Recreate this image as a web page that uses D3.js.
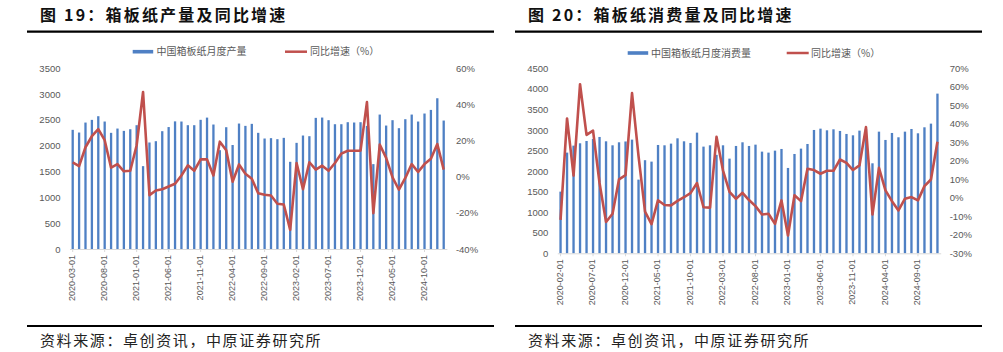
<!DOCTYPE html>
<html>
<head>
<meta charset="utf-8">
<script src="https://cdn.jsdelivr.net/npm/d3@7"></script>
<style>
  body { margin: 0; background: #fff; }
</style>
</head>
<body>
<div id="chart-area"></div>
<script>
// 图19 箱板纸产量
const prodDates = [
  "2020-03-01","2020-04-01","2020-05-01","2020-06-01","2020-07-01","2020-08-01","2020-09-01","2020-10-01","2020-11-01","2020-12-01",
  "2021-01-01","2021-02-01","2021-03-01","2021-04-01","2021-05-01","2021-06-01","2021-07-01","2021-08-01","2021-09-01","2021-10-01","2021-11-01","2021-12-01",
  "2022-01-01","2022-02-01","2022-03-01","2022-04-01","2022-05-01","2022-06-01","2022-07-01","2022-08-01","2022-09-01","2022-10-01","2022-11-01","2022-12-01",
  "2023-01-01","2023-02-01","2023-03-01","2023-04-01","2023-05-01","2023-06-01","2023-07-01","2023-08-01","2023-09-01","2023-10-01","2023-11-01","2023-12-01",
  "2024-01-01","2024-02-01","2024-03-01","2024-04-01","2024-05-01","2024-06-01","2024-07-01","2024-08-01","2024-09-01","2024-10-01","2024-11-01","2024-12-01",
  "2025-01-01"
]
const prodOutput = [
  2308, 2256, 2449, 2501, 2572, 2469, 2250, 2333, 2288, 2320,
  2398, 1605, 2063, 2088, 2282, 2362, 2472, 2469, 2398, 2398,
  2502, 2545, 2411, 1914, 2359, 2014, 2430, 2385, 2424, 2250,
  2140, 2147, 2127, 2153, 1689, 2056, 2198, 2185, 2540, 2546,
  2495, 2417, 2417, 2456, 2450, 2456, 2385, 1644, 2604, 2391,
  2495, 2340, 2514, 2604, 2469, 2624, 2694, 2920, 2488
]
const prodYoY = [
  8.0, 5.9, 16.3, 22.4, 26.3, 20.2, 5.0, 7.0, 3.0, 3.3,
  17.4, 46.9, -10.2, -7.6, -6.9, -5.4, -3.9, 0.7, 6.3, 3.3,
  9.6, 9.6, 0.7, 19.4, 14.6, -2.8, 6.8, 1.6, -1.1, -9.1,
  -10.0, -10.4, -15.0, -15.4, -29.4, 7.6, -6.9, 8.0, 3.9, 6.1,
  3.3, 7.6, 12.8, 14.4, 14.4, 14.4, 41.3, -20.2, 17.8, 10.4,
  -0.4, -7.2, -0.7, 7.0, 2.6, 7.0, 10.0, 18.1, 3.9
]
const prodTicks = ["2020-03-01","2020-08-01","2021-01-01","2021-06-01","2021-11-01","2022-04-01",
  "2022-09-01","2023-02-01","2023-07-01","2023-12-01","2024-05-01","2024-10-01"]
const prodLeftTicks = [0, 500, 1000, 1500, 2000, 2500, 3000, 3500]
const prodRightTicks = [-40, -20, 0, 20, 40, 60]

// 图20 箱板纸消费量
const consDates = [
  "2020-02-01","2020-03-01","2020-04-01","2020-05-01","2020-06-01","2020-07-01","2020-08-01","2020-09-01","2020-10-01","2020-11-01","2020-12-01",
  "2021-01-01","2021-02-01","2021-03-01","2021-04-01","2021-05-01","2021-06-01","2021-07-01","2021-08-01","2021-09-01","2021-10-01","2021-11-01","2021-12-01",
  "2022-01-01","2022-02-01","2022-03-01","2022-04-01","2022-05-01","2022-06-01","2022-07-01","2022-08-01","2022-09-01","2022-10-01","2022-11-01","2022-12-01",
  "2023-01-01","2023-02-01","2023-03-01","2023-04-01","2023-05-01","2023-06-01","2023-07-01","2023-08-01","2023-09-01","2023-10-01","2023-11-01","2023-12-01",
  "2024-01-01","2024-02-01","2024-03-01","2024-04-01","2024-05-01","2024-06-01","2024-07-01","2024-08-01","2024-09-01","2024-10-01","2024-11-01","2024-12-01"
]
const consVolume = [
  1500, 2449, 2619, 2676, 2732, 2781, 2830, 2724, 2627, 2700,
  2720, 2765, 1792, 2265, 2230, 2635, 2627, 2668, 2797, 2724,
  2684, 2935, 2595, 2627, 2395, 2627, 2303, 2611, 2700, 2611,
  2643, 2473, 2449, 2497, 2538, 2076, 2416, 2546, 2659, 3000,
  3032, 2992, 3016, 2976, 2903, 2870, 2984, 3024, 2189, 2959,
  2757, 2927, 2822, 2959, 3024, 2919, 3065, 3154, 3884
]
const consYoY = [
  -11.9, 42.9, 12.0, 61.4, 34.0, 36.3, 8.0, -13.1, -8.6, 10.0,
  12.3, 56.6, 22.5, -7.5, -14.2, -1.3, -3.9, -4.1, -1.7, 0.3,
  2.5, 8.0, -5.1, -5.3, 33.0, 14.7, 3.2, -0.6, 2.7, -1.2,
  -4.5, -9.0, -8.6, -14.1, -1.4, -20.4, 1.4, -1.8, 15.7, 15.0,
  13.0, 14.6, 14.6, 20.7, 18.9, 15.0, 17.5, 38.2, -9.0, 16.2,
  4.0, -1.8, -6.8, -0.5, 0.4, -1.4, 6.3, 9.9, 30.3
]
const consTicks = ["2020-02-01","2020-07-01","2020-12-01","2021-05-01","2021-10-01","2022-03-01",
  "2022-08-01","2023-01-01","2023-06-01","2023-11-01","2024-04-01","2024-09-01"]
const consLeftTicks = [0, 500, 1000, 1500, 2000, 2500, 3000, 3500, 4000, 4500]
const consRightTicks = [-30, -20, -10, 0, 10, 20, 30, 40, 50, 60, 70]

const BAR_COLOR = "#4f80c4"
const LINE_COLOR = "#c0504d"
const TEXT_COLOR = "#595959"
const AXIS_COLOR = "#d9d9d9"
const CJK = "'Noto Sans CJK SC', 'Noto Sans', sans-serif"
const NUM = "'Liberation Sans', Arial, sans-serif"

const svg = d3.select("#chart-area").append("svg")
      .attr("width", 1003)
      .attr("height", 352)

drawPanel({
      left: 0, title: "图 19：箱板纸产量及同比增速",
      barName: "中国箱板纸月度产量", lineName: "同比增速（%）",
      dates: prodDates, bars: prodOutput, yoy: prodYoY, ticks: prodTicks,
      leftTicks: prodLeftTicks, rightTicks: prodRightTicks,
      xRange: [69.5, 446.9], yBase: 249, yTop: 68.3,
      legend: { rect: 132.7, text: 156.5, line: 285, lineText: 310, y: 51.7 }
})

drawPanel({
      left: 488, title: "图 20：箱板纸消费量及同比增速",
      barName: "中国箱板纸月度消费量", lineName: "同比增速（%）",
      dates: consDates, bars: consVolume, yoy: consYoY, ticks: consTicks,
      leftTicks: consLeftTicks, rightTicks: consRightTicks,
      xRange: [557.3, 940.7], yBase: 253.3, yTop: 68.3,
      legend: { rect: 627.7, text: 651, line: 786.7, lineText: 811, y: 53 }
})

function drawPanel(p) {
      const g = svg.append("g")

      // title + rules
      g.append("text")
            .attr("x", p.left + 40)
            .attr("y", 21)
            .attr("font-family", CJK)
            .attr("font-weight", "bold")
            .attr("font-size", "16px")
            .attr("letter-spacing", "2.2px")
            .attr("fill", "#111")
            .text(p.title)

      g.append("line")
            .attr("x1", p.left + 27).attr("x2", p.left + 494)
            .attr("y1", 31.7).attr("y2", 31.7)
            .attr("stroke", "#000").attr("stroke-width", 2.2)

      g.append("line")
            .attr("x1", p.left + 27).attr("x2", p.left + 494)
            .attr("y1", 326).attr("y2", 326)
            .attr("stroke", "#000").attr("stroke-width", 2.2)

      g.append("text")
            .attr("x", p.left + 40)
            .attr("y", 346)
            .attr("font-family", CJK)
            .attr("font-size", "15px")
            .attr("letter-spacing", "1.6px")
            .attr("fill", "#222")
            .text("资料来源：卓创资讯，中原证券研究所")

      // legend
      const L = p.legend
      g.append("rect")
            .attr("x", L.rect).attr("y", L.y - 1.8)
            .attr("width", 20.5).attr("height", 3.6)
            .attr("fill", BAR_COLOR)
      g.append("text")
            .attr("x", L.text).attr("y", L.y + 3.5)
            .attr("font-family", CJK).attr("font-size", "10px")
            .attr("fill", TEXT_COLOR)
            .text(p.barName)
      g.append("line")
            .attr("x1", L.line).attr("x2", L.line + 22)
            .attr("y1", L.y).attr("y2", L.y)
            .attr("stroke", LINE_COLOR).attr("stroke-width", 2.5)
      g.append("text")
            .attr("x", L.lineText).attr("y", L.y + 3.5)
            .attr("font-family", CJK).attr("font-size", "10px")
            .attr("fill", TEXT_COLOR)
            .text(p.lineName)

      // scales
      const x = d3.scaleBand()
            .domain(p.dates)
            .range(p.xRange)
            .paddingInner(0.64)
            .paddingOuter(0.32)

      const y = d3.scaleLinear()
            .domain([0, d3.max(p.leftTicks)])
            .range([p.yBase, p.yTop])

      const y2 = d3.scaleLinear()
            .domain(d3.extent(p.rightTicks))
            .range([p.yBase, p.yTop])

      // bars
      g.selectAll("rect.bar").data(p.bars).enter().append("rect")
            .attr("class", "bar")
            .attr("x", (d, i) => x(p.dates[i]))
            .attr("y", d => y(d))
            .attr("width", x.bandwidth())
            .attr("height", d => p.yBase - y(d))
            .attr("fill", BAR_COLOR)

      // x axis
      const xAxisCall = d3.axisBottom(x)
            .tickValues(p.ticks)
            .tickSizeInner(3)
            .tickSizeOuter(0)
      const xa = g.append("g")
            .attr("transform", `translate(0, ${p.yBase})`)
            .call(xAxisCall)
      xa.select(".domain").attr("stroke", AXIS_COLOR)
      xa.selectAll(".tick line").attr("stroke", AXIS_COLOR)
      xa.selectAll("text")
            .attr("font-family", NUM)
            .attr("font-size", "9px")
            .attr("fill", TEXT_COLOR)
            .attr("transform", "rotate(-90)")
            .attr("text-anchor", "end")
            .attr("x", -6)
            .attr("y", -1)
            .attr("dy", "0.35em")

      // left y axis
      const yAxisCall = d3.axisLeft(y).tickValues(p.leftTicks).tickSize(0).tickPadding(9)
            .tickFormat(d3.format("d"))
      const ya = g.append("g")
            .attr("transform", `translate(${p.xRange[0]}, 0)`)
            .call(yAxisCall)
      ya.select(".domain").remove()
      ya.selectAll("text")
            .attr("font-family", NUM)
            .attr("font-size", "9.5px")
            .attr("fill", TEXT_COLOR)

      // right y axis
      const y2AxisCall = d3.axisRight(y2).tickValues(p.rightTicks).tickSize(0).tickPadding(9)
            .tickFormat(d => d + "%")
      const y2a = g.append("g")
            .attr("transform", `translate(${p.xRange[1]}, 0)`)
            .call(y2AxisCall)
      y2a.select(".domain").remove()
      y2a.selectAll("text")
            .attr("font-family", NUM)
            .attr("font-size", "9.5px")
            .attr("fill", TEXT_COLOR)

      // yoy line
      const line = d3.line()
            .x((d, i) => x(p.dates[i]) + x.bandwidth() / 2)
            .y(d => y2(d))

      g.append("path")
            .datum(p.yoy)
            .attr("d", line)
            .attr("fill", "none")
            .attr("stroke", LINE_COLOR)
            .attr("stroke-width", 2.6)
            .attr("stroke-linejoin", "round")
}
</script>
</body>
</html>
